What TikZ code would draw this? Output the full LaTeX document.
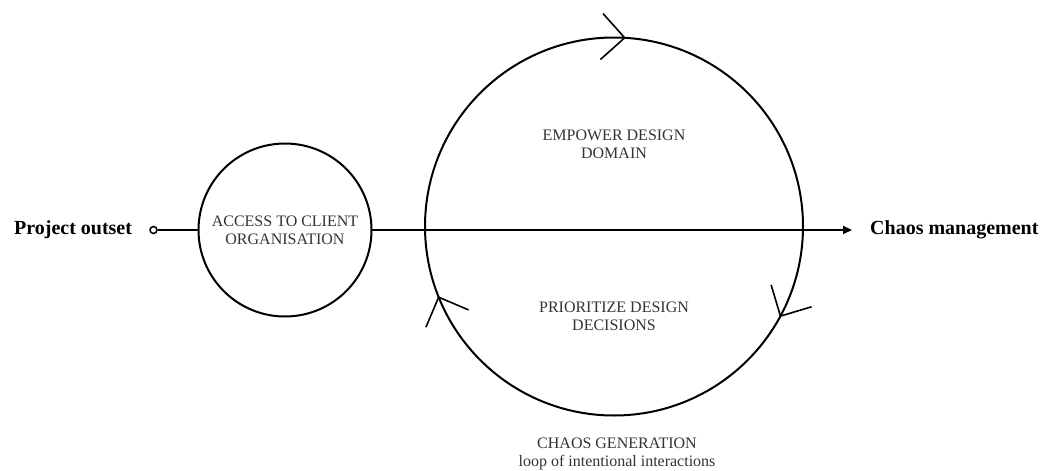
\documentclass[tikz,border=0pt]{standalone}
\usepackage{fontspec}
\setmainfont{Liberation Serif}
\usetikzlibrary{positioning,arrows.meta,decorations.markings}
\begin{document}
\begin{tikzpicture}[x=1pt,y=1pt,
                every node/.append style={inner sep=0pt},
                ring/.style={draw,circle,line width=2pt,outer sep=0pt},
                phase/.style={align=center,text=black!80,font=\fontsize{16}{18}\selectfont},
                endlabel/.style={font=\fontsize{20}{24}\selectfont\bfseries},
                chevron/.style={line width=1.6pt},
                chevrons/.style={postaction={decorate},decoration={markings,
                  mark=at position 0.0786 with {\draw[chevron] (-23,23) -- (0,0) -- (-23,-23);},
                  mark=at position 0.439 with {\draw[chevron] (-23,23) -- (0,0) -- (-23,-23);},
                  mark=at position 0.759 with {\draw[chevron] (-23,23) -- (0,0) -- (-23,-23);}}}]
                \useasboundingbox (0,0) rectangle (1047,-471);
                \node [draw,circle,line width=1.5pt,minimum size=7pt] (start) at (153.5,-230) {};
                \node [endlabel,left=17pt of start] (outset) {Project outset};
                \node [ring,phase,minimum size=173pt] (access) at (285,-230) {ACCESS TO CLIENT\\ORGANISATION};
                \node [ring,minimum size=378pt] (loop) at (614,-226.5) {};
                \node [phase] (empower) at (614,-144) {EMPOWER DESIGN\\DOMAIN};
                \node [phase] (prioritize) at (614,-316) {PRIORITIZE DESIGN\\DECISIONS};
                \node [phase] (generation) at (617,-453.5) {CHAOS GENERATION\\loop of intentional interactions};
                \coordinate (finish) at (852,-230);
                \node [endlabel,right=18pt of finish] (chaos) {Chaos management};
                % the line through both circles
                \draw [line width=2pt] (start) -- (access);
                \draw [line width=2pt,-{Triangle[length=9pt,width=8pt]}] (access) -- (finish);
                % clockwise marks on the loop
                \path [chevrons] (loop.center) ++(0:189) arc[start angle=0,end angle=-360,radius=189];
\end{tikzpicture}
\end{document}
